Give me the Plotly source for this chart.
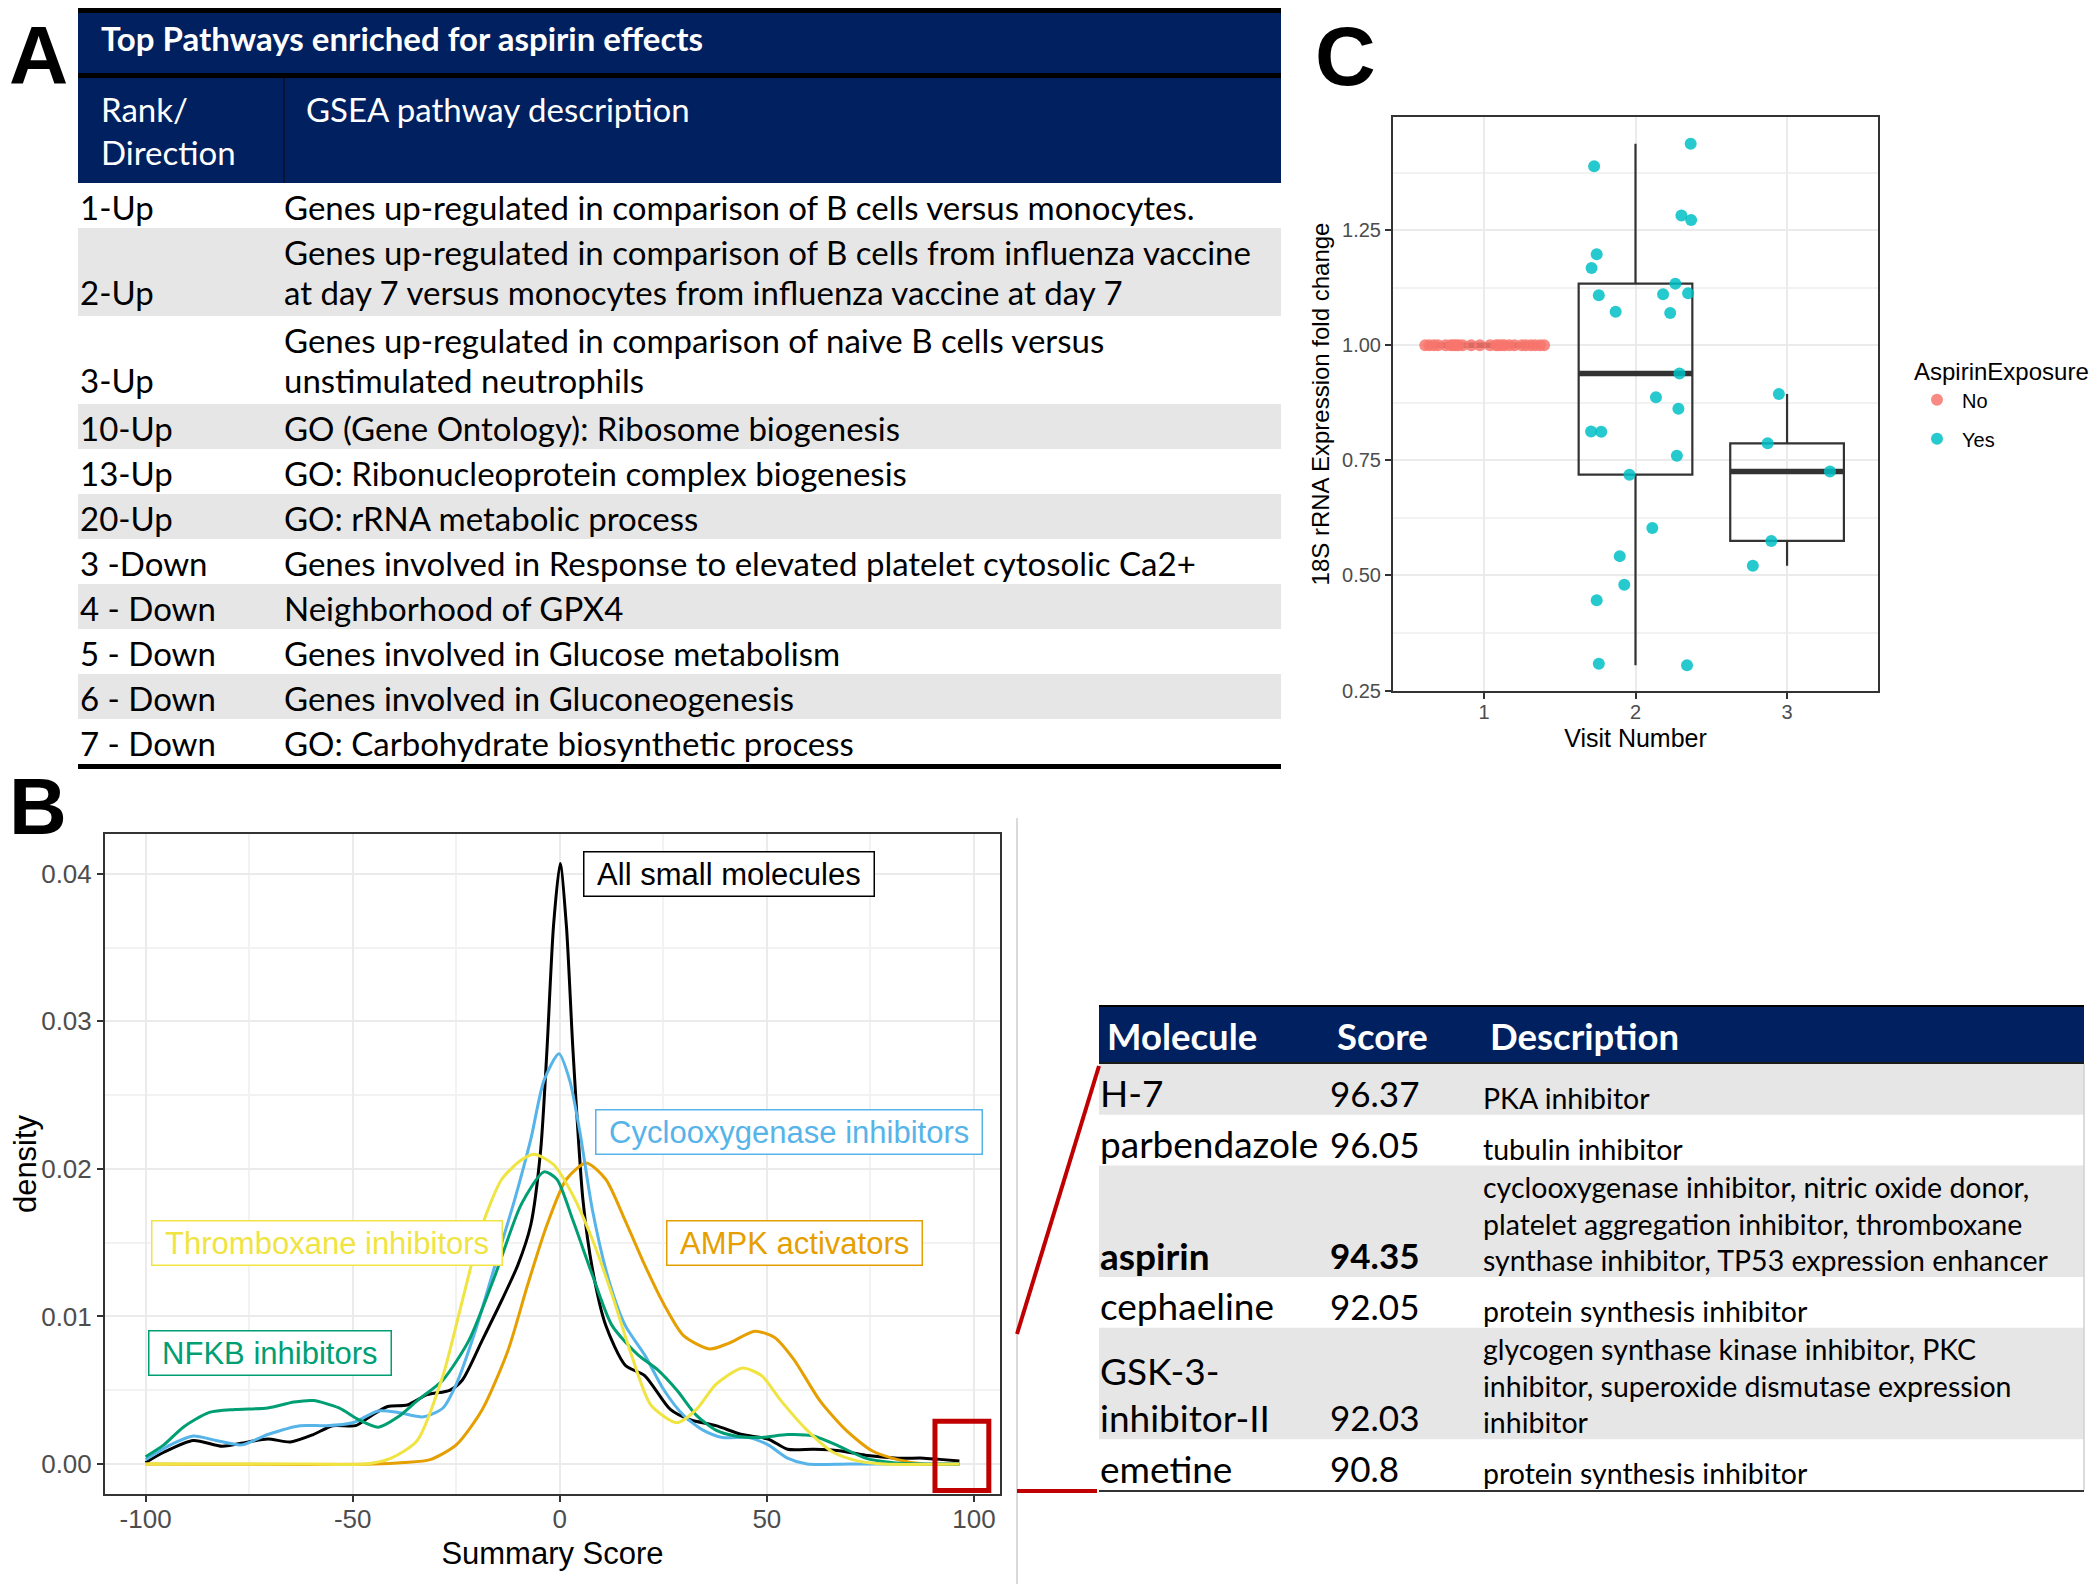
import numpy as np
import plotly.graph_objects as go

# ------------------------------------------------------------------ DATA
# Panel A : GSEA pathways table
table_a_title = "Top Pathways enriched for aspirin effects"
table_a_headers = ["Rank/<br>Direction", "GSEA pathway description"]
pathway_rank = ["1-Up", "2-Up", "3-Up", "10-Up", "13-Up", "20-Up",
                "3 -Down", "4 - Down", "5 - Down", "6 - Down", "7 - Down"]
pathway_desc = [
    "Genes up-regulated in comparison of B cells versus monocytes.",
    "Genes up-regulated in comparison of B cells from influenza vaccine<br>at day 7 versus monocytes from influenza vaccine at day 7",
    "Genes up-regulated in comparison of naive B cells versus<br>unstimulated neutrophils",
    "GO (Gene Ontology): Ribosome biogenesis",
    "GO: Ribonucleoprotein complex biogenesis",
    "GO: rRNA metabolic process",
    "Genes involved in Response to elevated platelet cytosolic Ca2+",
    "Neighborhood of GPX4",
    "Genes involved in Glucose metabolism",
    "Genes involved in Gluconeogenesis",
    "GO: Carbohydrate biosynthetic process",
]

# Panel B : density of summary scores
all_x = [-100, -95.6, -88.5, -81.5, -75.2, -70.5, -65, -59.5, -54.8, -49.3, -45.4, -41.5, -36.8, -32,
         -26.6, -23.5, -18.7, -14, -10.1, -7, -4.6, -3.1, -1.5, 0.1, 1.6, 3.2, 5.6, 7.9, 11.1, 15.8,
         20.5, 26.7, 31.5, 37.7, 44, 50.3, 55, 61.3, 67.5, 73.8, 81.6, 87.9, 92.6, 96.5]
all_y = [0.0001, 0.0008, 0.0016, 0.0012, 0.0015, 0.0017, 0.0015, 0.0020, 0.0026, 0.0026, 0.0033, 0.0039,
         0.0040, 0.0047, 0.0050, 0.0057, 0.0084, 0.0111, 0.0135, 0.0162, 0.0213, 0.0280, 0.0365, 0.0407,
         0.0365, 0.0280, 0.0179, 0.0132, 0.0094, 0.0067, 0.0060, 0.0037, 0.0030, 0.0026, 0.0020, 0.0017,
         0.0010, 0.0010, 0.0009, 0.0006, 0.0004, 0.0004, 0.0003, 0.0002]

cox_x = [-100, -94, -88.5, -83, -76.8, -70.5, -62.7, -56.4, -50, -43.8, -39, -32.9, -28.2, -25, -20.3,
         -15.6, -10.9, -7, -3.8, -0.2, 2.4, 4.8, 7.9, 11.8, 15.8, 20.5, 25.2, 29.9, 34.6, 39.3, 45.6,
         50.3, 55, 59.7, 70, 96.5]
cox_y = [0.0003, 0.0013, 0.0019, 0.0016, 0.0013, 0.0020, 0.0026, 0.0026, 0.0028, 0.0036, 0.0035, 0.0032,
         0.0038, 0.0054, 0.0091, 0.0135, 0.0179, 0.0220, 0.0260, 0.0278, 0.0260, 0.0226, 0.0172, 0.0125,
         0.0094, 0.0074, 0.0050, 0.0033, 0.0023, 0.0018, 0.0018, 0.0013, 0.0004, 0.0, 0.0, 0.0]

nfkb_x = [-100, -95.6, -90.9, -84.6, -78.4, -70.5, -64.2, -59.5, -53.3, -48.5, -43.8, -39, -34.4, -28.2,
          -21.9, -15.6, -9.3, -3.8, -0.7, 3.2, 7.9, 12.6, 18.9, 23.6, 28.3, 33, 37.7, 42.4, 48.7, 55,
          61.3, 67.5, 73.8, 80, 86, 96.5]
nfkb_y = [0.0005, 0.0013, 0.0025, 0.0035, 0.0037, 0.0038, 0.0042, 0.0043, 0.0038, 0.0030, 0.0025, 0.0032,
          0.0043, 0.0057, 0.0084, 0.0128, 0.0176, 0.0198, 0.0193, 0.0165, 0.0128, 0.0094, 0.0074, 0.0064,
          0.0050, 0.0033, 0.0023, 0.0019, 0.0018, 0.0020, 0.0019, 0.0012, 0.0004, 0.0001, 0.0, 0.0]

txa_x = [-100, -60, -47, -40.7, -34.4, -28.2, -23.5, -18.7, -14, -9.3, -6.2, -1.5, 3.2, 7.9, 12.6, 17.3,
         22, 28.3, 33, 37.7, 44, 48.7, 53.4, 59.7, 66, 72.2, 78.5, 96.5]
txa_y = [0.0, 0.0, 0.0, 0.0004, 0.0016, 0.0060, 0.0111, 0.0162, 0.0193, 0.0206, 0.0210, 0.0203, 0.0182,
         0.0152, 0.0115, 0.0074, 0.0040, 0.0028, 0.0037, 0.0054, 0.0065, 0.0060, 0.0043, 0.0023, 0.0008,
         0.0002, 0.0, 0.0]

ampk_x = [-100, -45, -37.6, -31.3, -25, -18.7, -12.5, -7.8, -3.1, 1.6, 6.4, 11.1, 15.8, 20.5, 25.2, 29.9,
          36.2, 40.9, 47.1, 51.8, 56.5, 62.8, 69.1, 75.4, 81.6, 87.9, 96.5]
ampk_y = [0.0, 0.0, 0.0001, 0.0003, 0.0013, 0.0037, 0.0077, 0.0121, 0.0162, 0.0193, 0.0204, 0.0193, 0.0165,
          0.0135, 0.0108, 0.0087, 0.0078, 0.0082, 0.0090, 0.0086, 0.0071, 0.0043, 0.0023, 0.0009, 0.0003,
          0.0, 0.0]

density_names = ["All small molecules", "AMPK activators", "Cyclooxygenase inhibitors",
                 "NFKB inhibitors", "Thromboxane inhibitors"]
density_label_x = [40.9, 56.6, 55.3, -70.0, -56.3]
density_label_y = [0.0400, 0.0150, 0.0225, 0.0075, 0.0150]
b_xticks = [-100, -50, 0, 50, 100]
b_yticks = [0.00, 0.01, 0.02, 0.03, 0.04]
highlight_score_range = [90.6, 103.6]

# Panel C : 18S rRNA fold change by visit
visit1_x = [0.613, 0.640, 0.670, 0.697, 0.747, 0.780, 0.798, 0.815, 0.832, 0.859, 0.916, 0.973, 1.040,
            1.080, 1.095, 1.118, 1.135, 1.168, 1.202, 1.250, 1.276, 1.310, 1.337, 1.370, 1.397]
visit1_y = [1.00] * 25
visit2_x = [2.364, 1.727, 2.303, 2.367, 1.744, 1.710, 2.263, 1.758, 2.182, 2.347, 1.869, 2.229, 2.290,
            2.135, 2.283, 1.707, 1.774, 2.273, 1.960, 2.111, 1.896, 1.926, 1.744, 1.758, 2.340]
visit2_y = [1.438, 1.389, 1.282, 1.272, 1.198, 1.168, 1.134, 1.109, 1.111, 1.113, 1.073, 1.070, 0.939,
            0.887, 0.862, 0.813, 0.812, 0.760, 0.719, 0.603, 0.542, 0.480, 0.446, 0.308, 0.305]
visit3_x = [2.946, 2.872, 3.283, 2.896, 2.774]
visit3_y = [0.894, 0.787, 0.726, 0.575, 0.521]
visit_numbers = [1, 2, 3]
c_yticks = [0.25, 0.50, 0.75, 1.00, 1.25]

# Panel D : top small molecules
molecules = ["H-7", "parbendazole", "aspirin", "cephaeline", "GSK-3-<br>inhibitor-II", "emetine"]
mol_scores = [96.37, 96.05, 94.35, 92.05, 92.03, 90.8]
mol_desc = [
    "PKA inhibitor",
    "tubulin inhibitor",
    "cyclooxygenase inhibitor, nitric oxide donor,<br>platelet aggregation inhibitor, thromboxane<br>synthase inhibitor, TP53 expression enhancer",
    "protein synthesis inhibitor",
    "glycogen synthase kinase inhibitor, PKC<br>inhibitor, superoxide dismutase expression<br>inhibitor",
    "protein synthesis inhibitor",
]
highlight_molecule = "aspirin"
table_d_headers = ["Molecule", "Score", "Description"]

# ------------------------------------------------------------------ STYLE / LAYOUT
# the page body has an 8 px margin, so the figure is 8 px smaller and all
# layout positions (page pixels) are shifted by that offset
PAGE_W, PAGE_H, OFFSET = 2100, 1584, 8
FW, FH = PAGE_W - OFFSET, PAGE_H - OFFSET
NAVY = "#002060"
GREY = "#E7E6E6"
RED = "#C00000"
GG = "Liberation Sans, Arial, sans-serif"
OFF = "Lato, Calibri, sans-serif"
density_colors = ["#000000", "#E69F00", "#56B4E9", "#009E73", "#F0E442"]


def px(x):
    return (x - OFFSET) / FW


def py(y):
    return 1 - (y - OFFSET) / FH


fig = go.Figure()
shapes = []
annos = []


def rect(x0, y0, x1, y1, color):
    shapes.append(dict(type="rect", xref="paper", yref="paper", x0=px(x0), x1=px(x1),
                       y0=py(y1), y1=py(y0), fillcolor=color, line=dict(width=0), layer="below"))


def seg(x0, y0, x1, y1, color, width):
    shapes.append(dict(type="line", xref="paper", yref="paper", x0=px(x0), x1=px(x1),
                       y0=py(y0), y1=py(y1), line=dict(color=color, width=width)))


def txt(x, y, text, size, color="#000000", family=OFF, xanchor="left", yanchor="middle", pad=1):
    annos.append(dict(x=px(x), y=py(y), xref="paper", yref="paper", text=text, showarrow=False,
                      xanchor=xanchor, yanchor=yanchor, borderpad=pad,
                      font=dict(family=family, size=size, color=color)))


# ---------------- Panel A table
AX0, AX1, ACOL2 = 78, 1281, 284
rect(AX0, 8, AX1, 13, "#000000")
rect(AX0, 13, AX1, 73, NAVY)
rect(AX0, 73, AX1, 78, "#000000")
rect(AX0, 78, AX1, 183, NAVY)
seg(ACOL2, 78, ACOL2, 183, "#0a0f2a", 1.5)
txt(99, 38, "<b>" + table_a_title + "</b>", 33, "#FFFFFF")
hdr1 = table_a_headers[0].split("<br>")
for i, line in enumerate(hdr1):
    txt(99, 109 + 43 * i, line, 33, "#FFFFFF")
txt(304, 109, table_a_headers[1], 33, "#FFFFFF")

top = 183
for i, (rk, ds) in enumerate(zip(pathway_rank, pathway_desc)):
    lines = ds.split("<br>")
    h = 45 + 43 * (len(lines) - 1)
    if i % 2 == 1:
        rect(AX0, top, AX1, top + h, GREY)
    for j, line in enumerate(lines):
        txt(282, top + 24 + 40 * j, line, 33)
    txt(78, top + 24 + 40 * (len(lines) - 1), rk, 33)
    top += h
rect(AX0, top, AX1, top + 5, "#000000")

# ---------------- Panel D table
DX0, DX1 = 1099, 2084
rect(DX0, 1005, DX1, 1064, NAVY)
seg(DX0, 1006, DX1, 1006, "#000000", 2)
seg(DX0, 1063, DX1, 1063, "#1a1a1a", 2)
for xx, hd in zip([1105, 1335, 1488], table_d_headers):
    txt(xx, 1036, "<b>" + hd + "</b>", 36.5, "#FFFFFF")
top = 1064
for i, (m, s, d) in enumerate(zip(molecules, mol_scores, mol_desc)):
    dl = d.split("<br>")
    ml = m.split("<br>")
    h = 50.75 + 30.4 * (len(dl) - 1)
    bot = top + h
    if i % 2 == 0:
        rect(DX0, top, DX1, bot, GREY)
    bold = (m == highlight_molecule)
    for j, line in enumerate(dl):
        txt(1481, bot - 17 - 36.5 * (len(dl) - 1 - j), line, 28.5)
    for j, line in enumerate(ml):
        t = "<b>" + line + "</b>" if bold else line
        txt(1098, bot - 22 - 47 * (len(ml) - 1 - j), t, 37)
    sc = "<b>%s</b>" % s if bold else str(s)
    txt(1328, bot - 22, sc, 35)
    top = bot
seg(DX0, top + 1, DX1, top + 1, "#333333", 2)
seg(DX1, 1064, DX1, top, "#D0D0D0", 1.5)

# connectors and separator
seg(1017, 818, 1017, 1584, "#DADADA", 2)
seg(1017, 1334, 1099, 1066, RED, 4)
seg(1017, 1491, 1097, 1491, RED, 4)

# panel letters
txt(8, 8, "<b>A</b>", 82, family=GG, xanchor="left", yanchor="top", pad=0)
txt(8, 806, "<b>B</b>", 80, family=GG, xanchor="left", pad=0)
txt(1345, 8, "<b>C</b>", 84, family=GG, xanchor="center", yanchor="top", pad=0)

# ---------------- Panel B density curves
curves = [(all_x, all_y), (ampk_x, ampk_y), (cox_x, cox_y), (nfkb_x, nfkb_y), (txa_x, txa_y)]
for (cx, cy), nm, col in zip(curves, density_names, density_colors):
    fig.add_trace(go.Scatter(x=cx, y=cy, mode="lines", name=nm, showlegend=False,
                             line=dict(color=col, width=3, shape="spline", smoothing=0.7),
                             xaxis="x", yaxis="y", hoverinfo="skip"))
for nm, col, lx, ly in zip(density_names, density_colors, density_label_x, density_label_y):
    annos.append(dict(x=lx, y=ly, xref="x", yref="y", text="&nbsp;" + nm + "&nbsp;", showarrow=False,
                      font=dict(family=GG, size=31, color=col), bgcolor="#FFFFFF",
                      bordercolor=col, borderwidth=1.5, borderpad=4))
shapes.append(dict(type="rect", xref="x", yref="y", x0=highlight_score_range[0],
                   x1=highlight_score_range[1], y0=-0.0018, y1=0.0029,
                   line=dict(color=RED, width=5), fillcolor="rgba(0,0,0,0)"))

# ---------------- Panel C box plot
groups_y = [visit1_y, visit2_y, visit3_y]
for v, ys in zip(visit_numbers, groups_y):
    arr = np.array(ys)
    q1, med, q3 = np.percentile(arr, [25, 50, 75])
    iqr = q3 - q1
    lo = arr[arr >= q1 - 1.5 * iqr].min()
    hi = arr[arr <= q3 + 1.5 * iqr].max()
    fig.add_trace(go.Box(x=[v], q1=[q1], median=[med], q3=[q3], lowerfence=[lo], upperfence=[hi],
                         width=0.75, whiskerwidth=0, line=dict(color="#333333", width=2.2),
                         fillcolor="rgba(0,0,0,0)", boxpoints=False, showlegend=False,
                         hoverinfo="skip", xaxis="x2", yaxis="y2"))
    fig.add_trace(go.Scatter(x=[v - 0.375, v + 0.375], y=[med, med], mode="lines",
                             line=dict(color="#333333", width=5.5), showlegend=False,
                             hoverinfo="skip", xaxis="x2", yaxis="y2"))

fig.add_trace(go.Scatter(x=visit1_x, y=visit1_y, mode="markers", name="No", legendgroup="no",
                         marker=dict(color="#F8766D", size=12, opacity=0.85), xaxis="x2", yaxis="y2"))
fig.add_trace(go.Scatter(x=visit2_x + visit3_x, y=visit2_y + visit3_y, mode="markers", name="Yes",
                         legendgroup="yes",
                         marker=dict(color="#00BFC4", size=12, opacity=0.85), xaxis="x2", yaxis="y2"))

axis_common = dict(showline=True, mirror=True, linecolor="#333333", linewidth=2, zeroline=False,
                   gridcolor="#EBEBEB", gridwidth=2, ticks="outside", tickcolor="#333333",
                   ticklen=6, tickwidth=2)

fig.update_layout(
    width=FW, height=FH, paper_bgcolor="#FFFFFF", plot_bgcolor="#FFFFFF",
    margin=dict(l=0, r=0, t=0, b=0, autoexpand=False),
    shapes=shapes, annotations=annos,
    xaxis=dict(domain=[px(105), px(1000)], range=[-109.8, 106.3], tickmode="array",
               tickvals=b_xticks, ticktext=[str(t) for t in b_xticks], ticklabelstandoff=-5,
               tickfont=dict(family=GG, size=26, color="#4D4D4D"),
               title=dict(text="Summary Score", font=dict(family=GG, size=31, color="#000000"), standoff=9),
               minor=dict(tickvals=[-75, -25, 25, 75], showgrid=True, gridcolor="#F2F2F2", gridwidth=1.5),
               anchor="y", **axis_common),
    yaxis=dict(domain=[py(1494), py(834)], range=[-0.00203, 0.0427], tickmode="array",
               tickvals=b_yticks, ticktext=["%.2f" % t for t in b_yticks],
               tickfont=dict(family=GG, size=26, color="#4D4D4D"),
               title=dict(text="density", font=dict(family=GG, size=31, color="#000000"), standoff=22),
               minor=dict(tickvals=[0.005, 0.015, 0.025, 0.035], showgrid=True, gridcolor="#F2F2F2",
                          gridwidth=1.5),
               anchor="x", **axis_common),
    xaxis2=dict(domain=[px(1393), px(1878)], range=[0.4, 3.6], tickmode="array",
                tickvals=visit_numbers, ticktext=[str(v) for v in visit_numbers], ticklabelstandoff=-4,
                tickfont=dict(family=GG, size=20, color="#4D4D4D"),
                title=dict(text="Visit Number", font=dict(family=GG, size=25, color="#000000"), standoff=7),
                anchor="y2", **axis_common),
    yaxis2=dict(domain=[py(691), py(117)], range=[0.249, 1.496], tickmode="array",
                tickvals=c_yticks, ticktext=["%.2f" % t for t in c_yticks],
                tickfont=dict(family=GG, size=20, color="#4D4D4D"),
                title=dict(text="18S rRNA Expression fold change", font=dict(family=GG, size=24, color="#000000"),
                           standoff=6),
                minor=dict(tickvals=[0.375, 0.625, 0.875, 1.125, 1.375], showgrid=True,
                           gridcolor="#F2F2F2", gridwidth=1.5),
                anchor="x2", **axis_common),
    showlegend=True,
    legend=dict(x=px(1912), y=py(349), xanchor="left", yanchor="top", bgcolor="rgba(0,0,0,0)",
                title=dict(text="AspirinExposure", font=dict(family=GG, size=24, color="#000000")),
                font=dict(family=GG, size=20, color="#000000"), tracegroupgap=10, itemwidth=40),
)

fig.write_html("out.html")
